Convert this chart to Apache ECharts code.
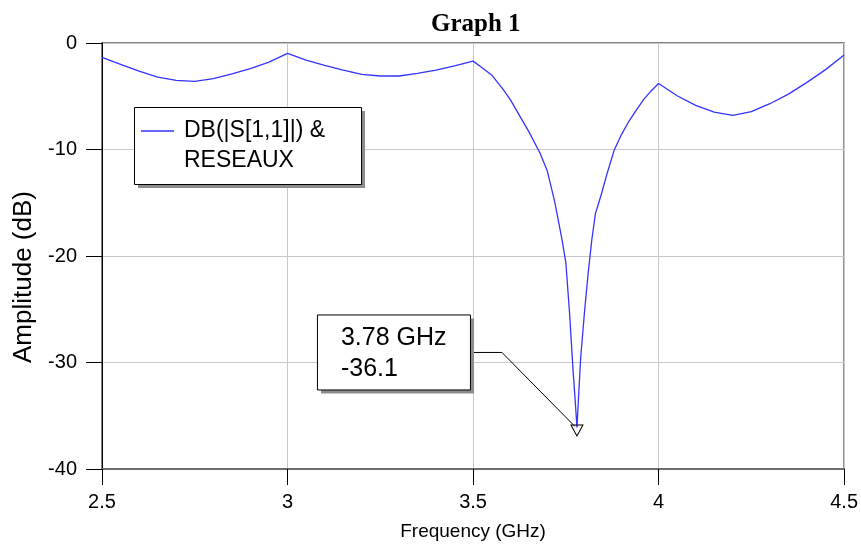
<!DOCTYPE html>
<html>
<head>
<meta charset="utf-8">
<title>Graph 1</title>
<script src="https://cdn.jsdelivr.net/npm/echarts@6/dist/echarts.min.js"></script>
<style>
  html, body { margin: 0; padding: 0; background: #ffffff; }
  #chart { width: 861px; height: 546px; }
</style>
</head>
<body>
<div id="chart"></div>
<script>
// Reflection coefficient sweep, DB(|S[1,1]|) vs frequency
const freqGHz = [
  2.5, 2.55, 2.6, 2.65, 2.7, 2.75, 2.8, 2.85, 2.9, 2.95,
  3.0, 3.05, 3.1, 3.15, 3.2, 3.25, 3.3, 3.35, 3.4, 3.45,
  3.5, 3.52, 3.55, 3.58, 3.6, 3.63, 3.65, 3.68, 3.7, 3.72,
  3.74, 3.75, 3.76, 3.77, 3.775, 3.78, 3.785, 3.79, 3.8, 3.81,
  3.82, 3.83, 3.845, 3.86, 3.88, 3.9, 3.92, 3.94, 3.96, 3.98,
  4.0, 4.05, 4.1, 4.15, 4.2, 4.25, 4.3, 4.35, 4.4, 4.45, 4.5
];
const s11dB = [
  -1.35, -2.0, -2.65, -3.2, -3.5, -3.6, -3.35, -2.9, -2.4, -1.8,
  -0.97, -1.6, -2.1, -2.55, -2.95, -3.1, -3.1, -2.85, -2.55, -2.15,
  -1.7, -2.2, -3.0, -4.3, -5.3, -7.1, -8.3, -10.3, -12.0, -14.9,
  -18.5, -20.6, -25.3, -31.0, -33.4, -36.1, -32.8, -29.6, -25.4, -21.7,
  -18.5, -16.0, -14.3, -12.4, -10.1, -8.6, -7.35, -6.3, -5.3, -4.5,
  -3.8, -4.95, -5.85, -6.5, -6.8, -6.45, -5.7, -4.8, -3.7, -2.5, -1.13
];

// Marker placed on the resonance minimum
const markerFreq = 3.78;
const markerDb = -36.1;

// Axis tick values
const xTicks = [2.5, 3, 3.5, 4, 4.5];
const yTicks = [-40, -30, -20, -10, 0];

const seriesLines = ['DB(|S[1,1]|) &', 'RESEAUX'];
const seriesName = seriesLines.join('\n');
const FONT = '"Liberation Sans", Arial, sans-serif';
const SHADOW = '#8c8c8c';

// Legend geometry
const LEG = { left: 134, top: 107, padT: 9, padR: 36, padL: 7, iconW: 38, lineH: 30, fontSize: 23 };

function textWidth(str, font) {
  const ctx = document.createElement('canvas').getContext('2d');
  ctx.font = font;
  return ctx.measureText(str).width;
}

const chart = echarts.init(document.getElementById('chart'), null, { renderer: 'canvas' });

const lineData = freqGHz.map((f, i) => [f, s11dB[i]]);

chart.setOption({
  animation: false,
  backgroundColor: '#ffffff',
  title: {
    text: 'Graph 1',
    left: 426,
    top: 7,
    textStyle: {
      fontFamily: '"Liberation Serif", "Times New Roman", serif',
      fontWeight: 'bold',
      fontSize: 25,
      color: '#000000'
    }
  },
  grid: {
    left: 102, right: 16, top: 43, bottom: 77,
    show: true,
    borderColor: '#5a5a5a',
    borderWidth: 1.5,
    backgroundColor: '#ffffff'
  },
  legend: {
    data: [seriesName],
    left: LEG.left,
    top: LEG.top,
    orient: 'vertical',
    padding: [LEG.padT, LEG.padR, LEG.padT, LEG.padL],
    itemWidth: LEG.iconW,
    itemHeight: 31.5,
    icon: 'path://M0,0h33v1.5h-33z M38,31.5h0.01v0.01h-0.01z',
    itemStyle: { borderWidth: 0 },
    selectedMode: false,
    z: 10,
    textStyle: {
      fontFamily: FONT,
      fontSize: LEG.fontSize,
      lineHeight: LEG.lineH,
      color: '#000000'
    }
  },
  xAxis: {
    type: 'value',
    min: xTicks[0],
    max: xTicks[xTicks.length - 1],
    interval: xTicks[1] - xTicks[0],
    name: 'Frequency (GHz)',
    nameLocation: 'middle',
    nameGap: 53,
    nameTextStyle: { fontFamily: FONT, fontSize: 19, color: '#000000' },
    axisLine: { show: true, onZero: false, lineStyle: { color: '#6e6e6e', width: 2 } },
    axisTick: { show: true, inside: false, length: 16, lineStyle: { color: '#000000', width: 1 } },
    axisLabel: { margin: 23, fontFamily: FONT, fontSize: 20, color: '#000000' },
    splitLine: { show: true, lineStyle: { color: '#c8c8c8', width: 1 } }
  },
  yAxis: {
    type: 'value',
    min: yTicks[0],
    max: yTicks[yTicks.length - 1],
    interval: yTicks[1] - yTicks[0],
    name: 'Amplitude (dB)',
    nameLocation: 'middle',
    nameGap: 62,
    nameTextStyle: { fontFamily: FONT, fontSize: 26, color: '#000000', padding: [0, 42, 0, 0] },
    axisLine: { show: true, onZero: false, lineStyle: { color: '#000000', width: 1 } },
    axisTick: { show: true, inside: false, length: 16, lineStyle: { color: '#000000', width: 1 } },
    axisLabel: { margin: 25, fontFamily: FONT, fontSize: 20, color: '#000000' },
    splitLine: { show: true, lineStyle: { color: '#c8c8c8', width: 1 } }
  },
  series: [{
    name: seriesName,
    type: 'line',
    data: lineData,
    showSymbol: false,
    symbol: 'none',
    smooth: false,
    color: '#3434ff',
    lineStyle: { color: '#3434ff', width: 1.3 },
    markPoint: {
      silent: true,
      symbol: 'path://M0,0L12,0L6,11Z',
      symbolSize: [12, 11],
      symbolOffset: [0, 3],
      itemStyle: { color: 'rgba(0,0,0,0)', borderColor: '#000000', borderWidth: 1 },
      label: { show: false },
      data: [{ coord: [markerFreq, markerDb] }]
    }
  }]
});

// Legend frame with a hard drop shadow
const legTextW = Math.max.apply(null, seriesLines.map(s => textWidth(s, LEG.fontSize + 'px ' + FONT)));
const legW = LEG.padL + LEG.iconW + 5 + legTextW + LEG.padR;
const legH = LEG.padT * 2 + LEG.lineH * seriesLines.length - 1;

// Marker readout box with its leader line, anchored to the marker point
const p = chart.convertToPixel({ gridIndex: 0 }, [markerFreq, markerDb]);
const boxW = 153, boxH = 75;
const boxX = p[0] - 260, boxY = p[1] - 113;
const elbow = [p[0] - 75, p[1] - 75];
const markerFont = '25px ' + FONT;

chart.setOption({
  graphic: [
    {
      type: 'rect', silent: true, z: 8,
      shape: { x: LEG.left + 4, y: LEG.top + 4, width: legW, height: legH },
      style: { fill: SHADOW, stroke: null }
    },
    {
      type: 'rect', silent: true, z: 9,
      shape: { x: LEG.left + 0.5, y: LEG.top + 0.5, width: legW, height: legH },
      style: { fill: '#ffffff', stroke: '#000000', lineWidth: 1 }
    },
    {
      type: 'polyline', silent: true, z: 20,
      shape: { points: [[p[0] - 2, p[1] - 1], elbow, [boxX + boxW + 4, elbow[1]]] },
      style: { stroke: '#000000', lineWidth: 1, fill: null }
    },
    {
      type: 'rect', silent: true, z: 21,
      shape: { x: boxX + 4, y: boxY + 4, width: boxW, height: boxH },
      style: { fill: SHADOW, stroke: null }
    },
    {
      type: 'rect', silent: true, z: 22,
      shape: { x: boxX + 0.5, y: boxY + 0.5, width: boxW, height: boxH },
      style: { fill: '#ffffff', stroke: '#000000', lineWidth: 1 }
    },
    {
      type: 'text', silent: true, z: 23,
      x: boxX + 24, y: boxY + 24,
      style: {
        text: markerFreq.toFixed(2) + ' GHz',
        font: markerFont, fill: '#000000', verticalAlign: 'middle'
      }
    },
    {
      type: 'text', silent: true, z: 23,
      x: boxX + 24, y: boxY + 55,
      style: {
        text: markerDb.toFixed(1),
        font: markerFont, fill: '#000000', verticalAlign: 'middle'
      }
    }
  ]
});
</script>
</body>
</html>
